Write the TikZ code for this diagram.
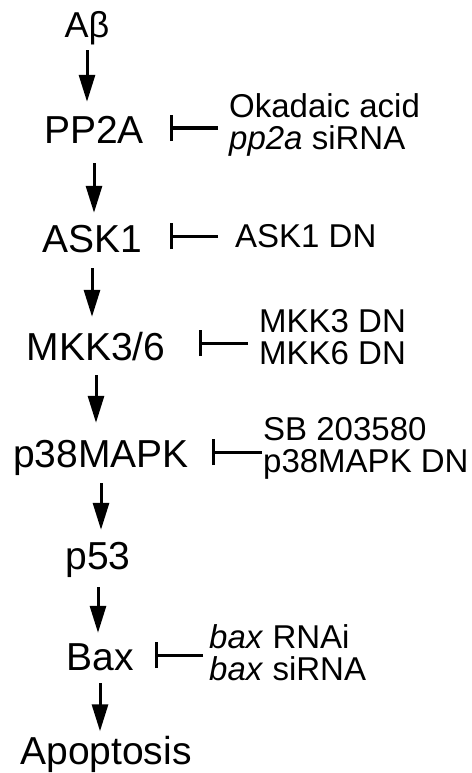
\documentclass[tikz,border=0pt]{standalone}
\usepackage{fontspec}
\setmainfont{Liberation Sans}
\usetikzlibrary{arrows.meta}
\begin{document}
\begin{tikzpicture}[x=1pt,y=-1pt,
  main/.style={font=\fontsize{39}{41}\selectfont, inner sep=0pt, anchor=base, text height=27pt, text depth=8pt},
  side/.style={font=\fontsize{33}{32}\selectfont, inner sep=0pt, anchor=west, align=left},
  arr/.style={line width=3pt, -{Triangle[length=27pt,width=16pt]}},
  inh/.style={line width=3pt, -{Bar[width=26pt]}}]
\useasboundingbox (0,0) rectangle (471,773);
% main chain
\node[main, font=\fontsize{36}{37}\selectfont] (ab) at (87,38) {Aβ};
\node[main] (pp2a) at (94,143) {PP2A};
\node[main] (ask1) at (92,252) {ASK1};
\node[main] (mkk) at (96,360) {MKK3/6};
\node[main] (p38) at (101,467) {p38MAPK};
\node[main] (p53) at (98,569) {p53};
\node[main] (bax) at (100,670) {Bax};
\node[main] (apo) at (106,764.5) {Apoptosis};
% side labels
\node[side] (okl) at (229,125) {Okadaic acid\\\textit{pp2a} siRNA};
\node[side] (askl) at (235,236) {ASK1 DN};
\node[side] (mkkl) at (259,337) {MKK3 DN\\MKK6 DN};
\node[side] (p38l) at (263,448) {SB 203580\\p38MAPK DN};
\node[side] (baxl) at (209,653) {\textit{bax} RNAi\\\textit{bax} siRNA};
% activation arrows
\draw[arr, shorten <=4pt, shorten >=14pt] (ab.south) -- (ab.south |- pp2a.north);
\draw[arr, shorten <=12pt, shorten >=12pt] (pp2a.south) -- (pp2a.south |- ask1.north);
\draw[arr, shorten <=8pt, shorten >=16pt] (ask1.south) -- (ask1.south |- mkk.north);
\draw[arr, shorten <=7pt, shorten >=17pt] (mkk.south) -- (mkk.south |- p38.north);
\draw[arr, shorten <=8pt, shorten >=12pt] (p38.south) -- (p38.south |- p53.north);
\draw[arr, shorten <=10pt, shorten >=10pt] (p53.south) -- (p53.south |- bax.north);
\draw[arr, shorten <=5pt, shorten >=6pt] (bax.south) -- (bax.south |- apo.north);
% inhibitions
\draw[inh, shorten <=11pt, shorten >=26pt] ([yshift=-3pt]okl.west) -- ([yshift=-3pt]okl.west -| pp2a.east);
\draw[inh, shorten <=17pt, shorten >=28pt] (askl.west) -- (askl.west -| ask1.east);
\draw[inh, shorten <=11pt, shorten >=33.5pt] ([yshift=-6pt]mkkl.west) -- ([yshift=-6pt]mkkl.west -| mkk.east);
\draw[inh, shorten <=1pt, shorten >=23pt] ([yshift=-4pt]p38l.west) -- ([yshift=-4pt]p38l.west -| p38.east);
\draw[inh, shorten <=6pt, shorten >=21.5pt] ([yshift=-2pt]baxl.west) -- ([yshift=-2pt]baxl.west -| bax.east);
\end{tikzpicture}
\end{document}
